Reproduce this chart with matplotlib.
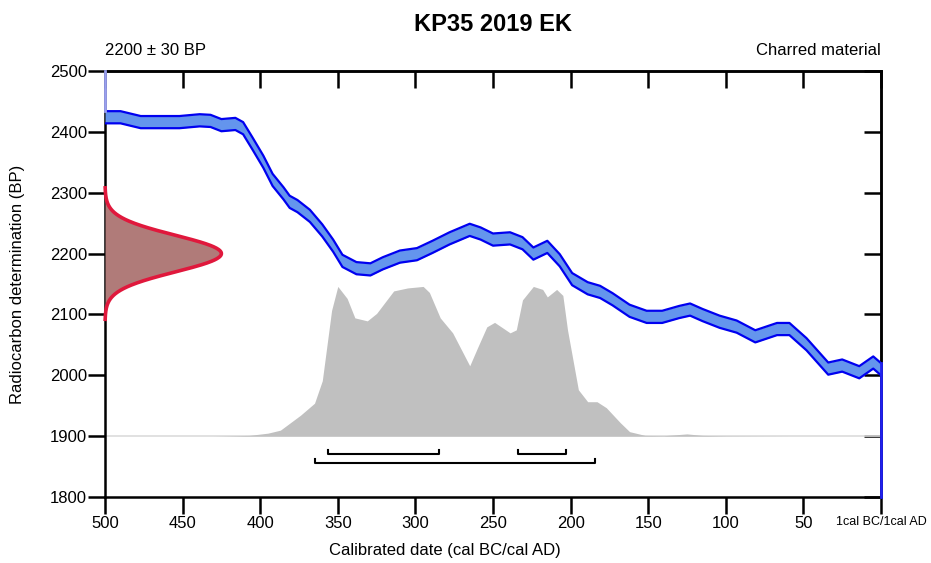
import numpy as np
import matplotlib.pyplot as plt

plt.rcParams['font.family'] = ['Liberation Sans', 'DejaVu Sans']

# calibration curve (IntCal band), centre in BP and half width
curve_year = [500, 490, 477, 465, 452, 439, 432, 425, 416, 411, 405, 398, 392, 385,
              381, 376, 368, 360, 353, 347, 338, 329, 321, 310, 299, 289, 278, 265,
              258, 250, 239, 231, 224, 215, 207, 199, 189, 181, 173, 162, 151, 141,
              130, 123, 115, 104, 93, 81, 67, 59, 48, 34, 25, 14, 5, 0]
curve_bp = [2424, 2424, 2416, 2416, 2416, 2419, 2418, 2411, 2413, 2406, 2381, 2351, 2321, 2299,
            2285, 2278, 2262, 2238, 2213, 2188, 2176, 2174, 2184, 2195, 2199, 2211, 2225, 2239,
            2233, 2223, 2225, 2217, 2200, 2211, 2189, 2158, 2143, 2137, 2125, 2106, 2096, 2096,
            2104, 2108, 2099, 2088, 2080, 2064, 2076, 2076, 2051, 2011, 2016, 2005, 2021, 2010]
curve_half = 10

# measured date
date_bp = 2200
date_err = 30

# calibrated probability (relative)
prob_year = [430, 420, 407, 395, 387, 374, 365, 360, 354, 350, 344, 339, 331, 325, 314,
             305, 295, 291, 284, 276, 265, 260, 254, 249, 239, 235, 231, 224, 218,
             215, 209, 205, 202, 195, 189, 183, 177, 168, 162, 152, 140, 125, 115, 100, 60, 0]
prob_val = [0.0, 0.002, 0.005, 0.02, 0.04, 0.14, 0.22, 0.37, 0.84, 1.0, 0.92, 0.79, 0.77, 0.82, 0.97,
            0.99, 1.0, 0.96, 0.79, 0.69, 0.47, 0.59, 0.73, 0.76, 0.69, 0.71, 0.91, 1.0, 0.98,
            0.93, 0.98, 0.94, 0.71, 0.31, 0.23, 0.23, 0.19, 0.09, 0.03, 0.005, 0.003, 0.015, 0.005, 0.002, 0.0, 0.0]

# ranges (cal BC)
range68 = [(356, 285), (234, 203)]
range95 = [(365, 184)]

x_ticks = [500, 450, 400, 350, 300, 250, 200, 150, 100, 50, 0]
x_labels = ['500', '450', '400', '350', '300', '250', '200', '150', '100', '50', '1cal BC/1cal AD']
y_ticks = [1800, 1900, 2000, 2100, 2200, 2300, 2400, 2500]

base = 1900
prob_height = 246
norm_width = 75

fig = plt.figure(figsize=(9.31, 5.63), dpi=100)
ax = fig.add_axes([105 / 931, 66 / 563, 776 / 931, 426 / 563])
ax.set_xlim(500, 0)
ax.set_ylim(1800, 2500)

# calibrated distribution
ax.axhline(base, color='#dcdcdc', lw=1.2, zorder=1)
ax.fill_between(prob_year, base, base + np.array(prob_val) * prob_height,
                color='#c0c0c0', lw=0, zorder=2)

# calibration curve band
cb = np.array(curve_bp)
ax.fill_between(curve_year, cb - curve_half, cb + curve_half, color='#6495ed', lw=0, zorder=3)
ax.plot(curve_year, cb + curve_half, color='#0000f0', lw=1.6, zorder=4, solid_joinstyle='round')
ax.plot(curve_year, cb - curve_half, color='#0000f0', lw=1.6, zorder=4, solid_joinstyle='round')
ax.plot([curve_year[0]] * 2, [cb[0] + curve_half, 2500], color='#9aa0f0', lw=2, zorder=6, clip_on=False)
ax.plot([curve_year[-1]] * 2, [1800, cb[-1] + curve_half], color='#2020f0', lw=2, zorder=6, clip_on=False)

# measured date as normal curve on y axis
yy = np.linspace(date_bp - 3.6 * date_err, date_bp + 3.6 * date_err, 300)
xx = 500 - norm_width * np.exp(-0.5 * ((yy - date_bp) / date_err) ** 2)
ax.fill_betweenx(yy, 500, xx, color='#b07b79', lw=0, zorder=5)
ax.plot(xx, yy, color='#e0183c', lw=2.6, zorder=6, clip_on=False)

# range bars
for lvl, rng in [(1871, range68), (1856, range95)]:
    for a, b in rng:
        ax.plot([a, a, b, b], [lvl + 7, lvl, lvl, lvl + 7], color='black', lw=1.5, zorder=5)

for s in ax.spines.values():
    s.set_linewidth(1.8)
ax.set_xticks(x_ticks)
ax.set_xticklabels(x_labels)
ax.set_yticks(y_ticks)
ax.tick_params(axis='x', direction='out', length=12, width=1.8, labelsize=12, pad=2)
ax.tick_params(axis='y', direction='out', length=12, width=1.8, labelsize=12, pad=1)
ax.get_xticklabels()[-1].set_fontsize(9)

# inward ticks on top and right
top = ax.secondary_xaxis('top')
top.set_xticks(x_ticks)
top.set_xticklabels([])
top.tick_params(direction='in', length=12, width=1.8)
top.spines['top'].set_linewidth(1.8)
right = ax.secondary_yaxis('right')
right.set_yticks(y_ticks)
right.set_yticklabels([])
right.tick_params(direction='in', length=12, width=1.8)
right.spines['right'].set_linewidth(1.8)

ax.text(0, 1 + 16 / 426, '2200 ± 30 BP', transform=ax.transAxes, fontsize=12, va='baseline', ha='left')
ax.text(1, 1 + 16 / 426, 'Charred material', transform=ax.transAxes, fontsize=12, va='baseline', ha='right')
fig.text(493 / 931, 1 - 31 / 563, 'KP35 2019 EK', fontsize=17, fontweight='bold', ha='center', va='baseline')
fig.text(445 / 931, 1 - 550 / 563, 'Calibrated date (cal BC/cal AD)', fontsize=12, ha='center', va='center')
fig.text(18 / 931, 1 - 284 / 563, 'Radiocarbon determination (BP)', fontsize=12, rotation=90,
         ha='center', va='center')

fig.savefig('out.png', dpi=100)
